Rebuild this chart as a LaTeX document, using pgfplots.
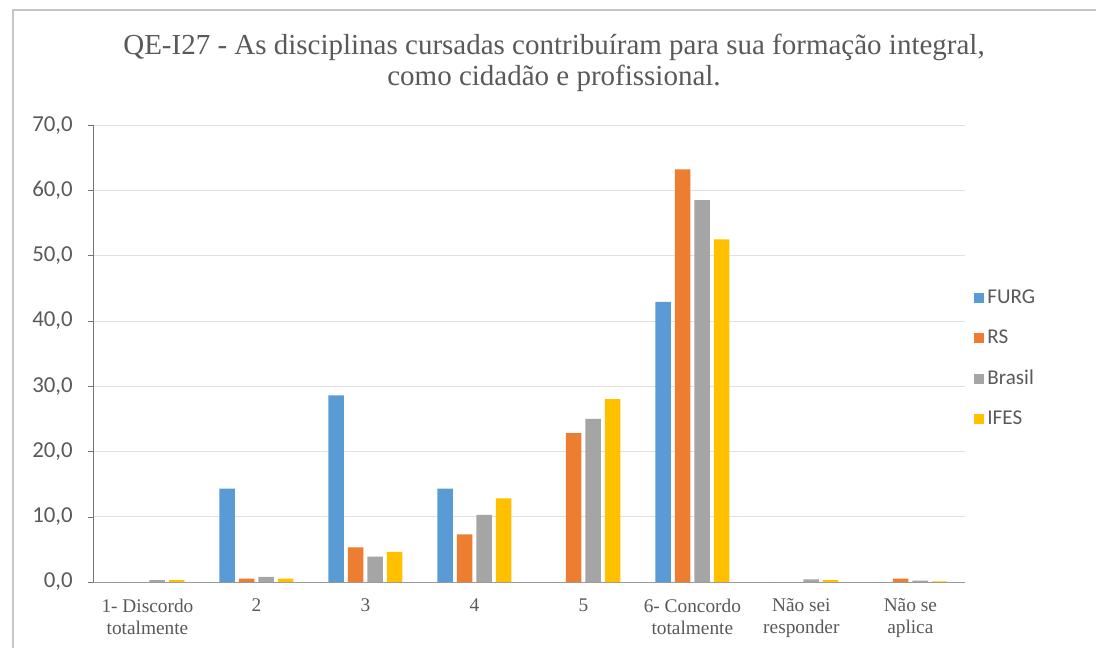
\documentclass[border=0pt]{standalone}
\usepackage{pgfplots}
\pgfplotsset{compat=1.18}
\usepackage{fontspec}
\setmainfont{Liberation Serif}
\newfontfamily\calibri{Carlito}

\definecolor{cFURG}{HTML}{5B9BD5}
\definecolor{cRS}{HTML}{ED7D31}
\definecolor{cBR}{HTML}{A5A5A5}
\definecolor{cIFES}{HTML}{FFC000}
\definecolor{txt}{HTML}{595959}

\begin{document}
\begin{tikzpicture}[x=0.02cm,y=0.02cm]
\path[use as bounding box] (0,0) rectangle (1096,648);
\draw[gray!45, line width=0.8pt] (13,0) -- (13,638) -- (1096,638);

\node[font=\fontsize{16.5}{17.5}\selectfont, text=txt, align=center] at (554,585)
  {QE-I27 - As disciplinas cursadas contribuíram para sua formação integral,\\como cidadão e profissional.};

\begin{axis}[
  at={(1.86cm,1.32cm)}, anchor=south west,
  scale only axis,
  width=17.44cm, height=9.14cm,
  ybar=0.08cm, bar width=0.31cm,
  xmin=-0.5, xmax=7.5,
  ymin=0, ymax=70,
  ytick={0,10,...,70},
  xtick={0,...,7},
  xticklabels={{1- Discordo\\totalmente},2,3,4,5,{6- Concordo\\totalmente},{Não sei\\responder},{Não se\\aplica}},
  xticklabel style={align=center, font=\fontsize{11}{12.5}\selectfont, text=txt, yshift=-3pt},
  yticklabel style={font=\calibri\fontsize{13}{14}\selectfont, text=txt, xshift=-5pt},
  /pgf/number format/.cd, fixed, fixed zerofill, precision=1, use comma, assume math mode=true,
  /pgfplots/.cd,
  axis x line*=bottom, axis y line*=left,
  axis line style={draw=black!55},
  x axis line style={draw=black!40},
  xtick style={draw=none},
  ytick style={draw=black!55},
  tick align=outside, major tick length=3pt,
  ymajorgrids, grid style={draw=black!12},
  legend style={at={(1.004,0.655)}, anchor=north west, draw=none, fill=none,
    font=\calibri\fontsize{12}{14}\selectfont, text=txt, row sep=9.5pt},
  legend cell align=left,
  legend image code/.code={\fill[#1] (0cm,-0.1cm) rectangle (0.2cm,0.1cm);},
]
\addplot[fill=cFURG, draw=none] coordinates {(0,0) (1,14.3) (2,28.6) (3,14.3) (4,0) (5,42.9) (6,0) (7,0)};
\addplot[fill=cRS, draw=none] coordinates {(0,0) (1,0.5) (2,5.3) (3,7.3) (4,22.8) (5,63.2) (6,0) (7,0.5)};
\addplot[fill=cBR, draw=none] coordinates {(0,0.3) (1,0.8) (2,3.9) (3,10.3) (4,25.0) (5,58.5) (6,0.4) (7,0.2)};
\addplot[fill=cIFES, draw=none] coordinates {(0,0.3) (1,0.5) (2,4.6) (3,12.8) (4,28.0) (5,52.5) (6,0.3) (7,0.1)};
\legend{FURG,RS,Brasil,IFES}
\end{axis}
\end{tikzpicture}
\end{document}
